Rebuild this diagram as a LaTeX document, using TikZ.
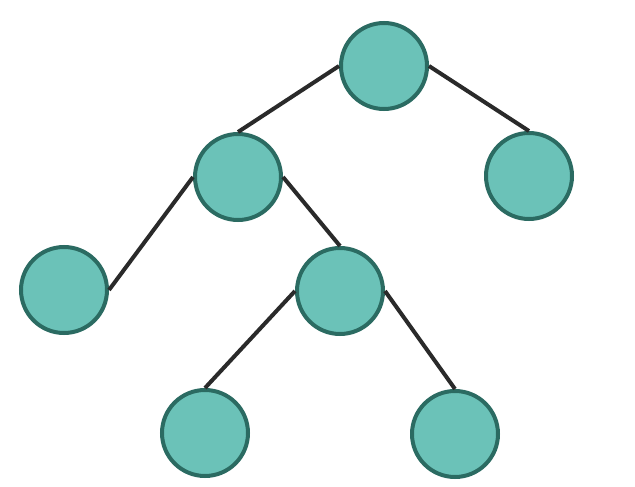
\documentclass[tikz,border=0pt]{standalone}
\begin{document}
\begin{tikzpicture}[x=1pt,y=-1pt,
  tnode/.style={circle,draw=nodeline,fill=nodefill,line width=4pt,minimum size=86pt,inner sep=0pt},
  edge/.style={draw=edgecol,line width=4pt}]
\definecolor{nodefill}{HTML}{6BC2B8}
\definecolor{nodeline}{HTML}{2B6B62}
\definecolor{edgecol}{HTML}{2A2A2A}
\useasboundingbox[fill=white] (0,0) rectangle (635,487);
\node[tnode] (r) at (384,66) {};
\node[tnode] (a) at (238,177) {};
\node[tnode] (b) at (529,176) {};
\node[tnode] (c) at (64,290) {};
\node[tnode] (d) at (340,291) {};
\node[tnode] (e) at (205,433) {};
\node[tnode] (f) at (455,434) {};
\draw[edge] (r.west) -- (a.north);
\draw[edge] (r.east) -- (b.north);
\draw[edge] (a.west) -- (c.east);
\draw[edge] (a.east) -- (d.north);
\draw[edge] (d.west) -- (e.north);
\draw[edge] (d.east) -- (f.north);
\end{tikzpicture}
\end{document}
